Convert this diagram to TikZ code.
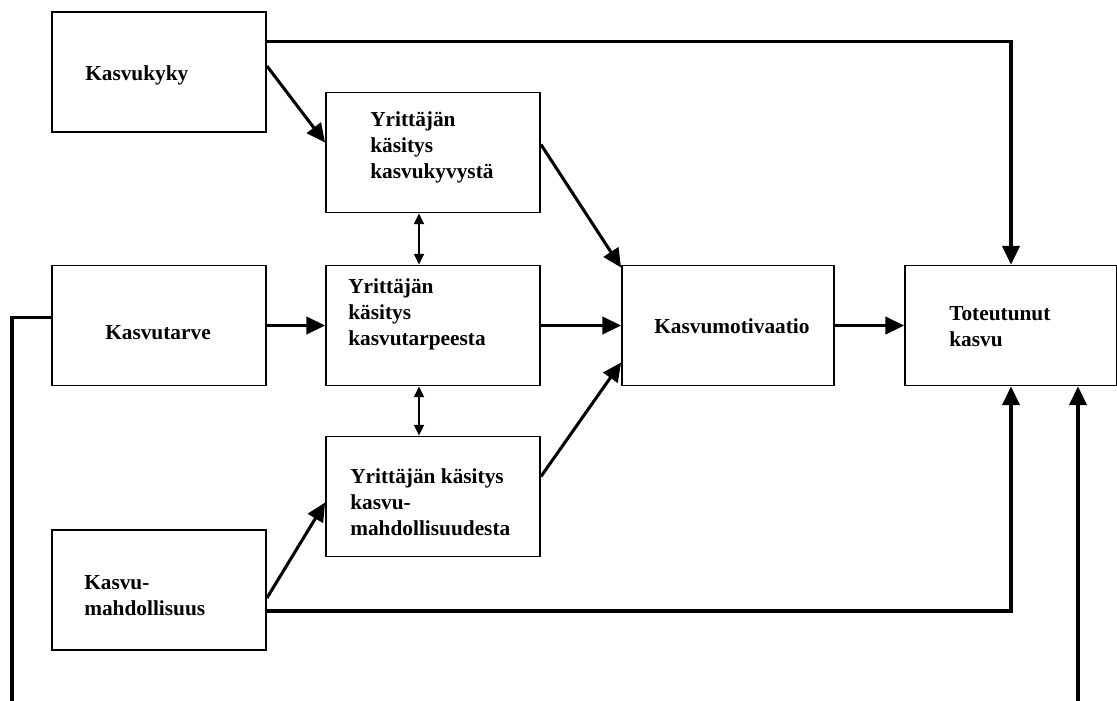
\documentclass[tikz,border=0pt]{standalone}
\usepackage{fontspec}
\setmainfont{Liberation Serif}
\usetikzlibrary{arrows.meta,calc}
\begin{document}
\begin{tikzpicture}[x=0.75pt,y=-0.75pt,
  box/.style={draw, line width=1.4pt, rectangle, inner sep=0pt,
              minimum width=160.5pt, minimum height=90pt},
  lbl/.style={anchor=west, align=left, inner sep=0pt,
              font=\fontsize{16}{19.5}\selectfont\bfseries},
  flow/.style={line width=2.3pt, -{Triangle[length=14pt,width=13pt]}},
  mutual/.style={line width=1.3pt, {Triangle[length=8pt,width=7.5pt]}-{Triangle[length=8pt,width=7.5pt]}}]
  \useasboundingbox (0,0) rectangle (1117,700);

  % boxes
  \node[box] (kyky)  at (159,72)    {};
  \node[box] (yk1)   at (433,152.5) {};
  \node[box] (tarve) at (159,325.5) {};
  \node[box] (yk2)   at (433,325.5) {};
  \node[box] (yk3)   at (433,496.5) {};
  \node[box] (mahd)  at (159,590)   {};
  \node[box, minimum width=159pt] (motiv) at (728,325.5) {};
  \node[box, minimum width=159pt] (tot)   at (1011,325.5) {};

  % texts
  \node[lbl] (tkyky)  at (85,75)   {Kasvukyky};
  \node[lbl] (tyk1)   at (370,147) {Yrittäjän\\käsitys\\kasvukyvystä};
  \node[lbl] (ttarve) at (105,333) {Kasvutarve};
  \node[lbl] (tyk2)   at (348,314) {Yrittäjän\\käsitys\\kasvutarpeesta};
  \node[lbl] (tyk3)   at (350,502) {Yrittäjän käsitys\\kasvu-\\mahdollisuudesta};
  \node[lbl] (tmahd)  at (84,596)  {Kasvu-\\mahdollisuus};
  \node[lbl] (tmotiv) at (654,326) {Kasvumotivaatio};
  \node[lbl] (ttot)   at (949,327) {Toteutunut\\kasvu};

  % connectors
  \draw[flow] ($(kyky.north east)+(0,30)$) -| (tot.north);
  \draw[flow] ($(kyky.east)+(0,-6)$) -- ($(yk1.west)+(0,-10)$);
  \draw[flow] ($(yk1.east)+(0,-8)$) -- ($(motiv.north west)+(0,3)$);
  \draw[flow] (tarve.east) -- (yk2.west);
  \draw[flow] (yk2.east) -- (motiv.west);
  \draw[flow] ($(yk3.east)+(0,-20)$) -- ($(motiv.west)+(0,37)$);
  \draw[flow] ($(mahd.east)+(0,8)$) -- ($(yk3.west)+(0,6)$);
  \draw[flow] ($(mahd.east)+(0,21)$) -| (tot.south);
  \draw[flow] (motiv.east) -- (tot.west);
  \draw[flow] ($(tarve.west)+(0,-8)$) -| (12,712) -| ($(tot.south)+(67,0)$);

  % mutual links between perceptions
  \draw[mutual] ($(yk1.south)+(-14,0)$) -- ($(yk2.north)+(-14,0)$);
  \draw[mutual] ($(yk2.south)+(-14,0)$) -- ($(yk3.north)+(-14,0)$);
\end{tikzpicture}
\end{document}
